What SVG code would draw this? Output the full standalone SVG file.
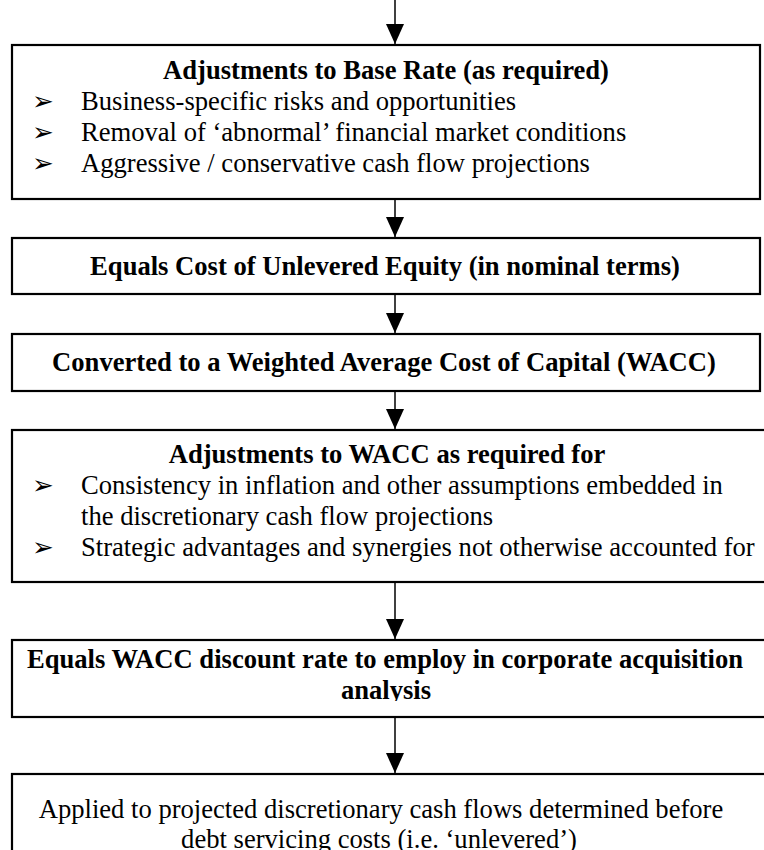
<svg xmlns="http://www.w3.org/2000/svg" width="764" height="850" viewBox="0 0 764 850">
<style>
.box{fill:#fff;stroke:#000;stroke-width:2.2}
.t{font-family:"Liberation Serif","Times New Roman",serif;font-size:26.6px;fill:#000}
.b{font-weight:bold}
.c{text-anchor:middle}
.bul{font-family:"DejaVu Sans",sans-serif;font-size:26px;fill:#000}
.con{stroke:#000;stroke-width:1.5;fill:none}
</style>
<defs>
<marker id="ah" markerUnits="userSpaceOnUse" markerWidth="20" markerHeight="22" refX="20" refY="9" orient="auto">
<path d="M0,0 L20,9 L0,18 Z" fill="#000"/>
</marker>
<clipPath id="clip5"><rect x="0" y="640" width="764" height="61"/></clipPath>
</defs>
<g id="connectors">
<line class="con" x1="395" y1="0" x2="395" y2="44" marker-end="url(#ah)"/>
<line class="con" x1="395" y1="199" x2="395" y2="237" marker-end="url(#ah)"/>
<line class="con" x1="395" y1="294" x2="395" y2="333" marker-end="url(#ah)"/>
<line class="con" x1="395" y1="391" x2="395" y2="429" marker-end="url(#ah)"/>
<line class="con" x1="395" y1="582" x2="395" y2="639" marker-end="url(#ah)"/>
<line class="con" x1="395" y1="717" x2="395" y2="773" marker-end="url(#ah)"/>
</g>
<g id="node1">
<rect class="box" x="12" y="45" width="748" height="154"/>
<text class="t b c" x="386" y="79">Adjustments to Base Rate (as required)</text>
<text class="bul" x="32" y="110">➢</text>
<text class="t" x="81" y="110">Business-specific risks and opportunities</text>
<text class="bul" x="32" y="141">➢</text>
<text class="t" x="81" y="141">Removal of ‘abnormal’ financial market conditions</text>
<text class="bul" x="32" y="172">➢</text>
<text class="t" x="81" y="172">Aggressive / conservative cash flow projections</text>
</g>
<g id="node2">
<rect class="box" x="12" y="238" width="748" height="56"/>
<text class="t b c" x="385" y="275">Equals Cost of Unlevered Equity (in nominal terms)</text>
</g>
<g id="node3">
<rect class="box" x="12" y="334" width="748" height="57"/>
<text class="t b c" x="384" y="371">Converted to a Weighted Average Cost of Capital (WACC)</text>
</g>
<g id="node4">
<rect class="box" x="12" y="430" width="780" height="152"/>
<text class="t b c" x="387" y="463">Adjustments to WACC as required for</text>
<text class="bul" x="32" y="494">➢</text>
<text class="t" x="81" y="494">Consistency in inflation and other assumptions embedded in</text>
<text class="t" x="81" y="525">the discretionary cash flow projections</text>
<text class="bul" x="32" y="556">➢</text>
<text class="t" x="81" y="556">Strategic advantages and synergies not otherwise accounted for</text>
</g>
<g id="node5">
<rect class="box" x="12" y="640" width="780" height="77"/>
<g clip-path="url(#clip5)">
<text class="t b c" x="385" y="668">Equals WACC discount rate to employ in corporate acquisition</text>
<text class="t b c" x="386" y="699">analysis</text>
</g>
</g>
<g id="node6">
<rect class="box" x="12" y="774" width="780" height="90"/>
<text class="t c" x="381" y="818">Applied to projected discretionary cash flows determined before</text>
<text class="t c" x="379" y="848">debt servicing costs (i.e. ‘unlevered’)</text>
</g>
</svg>
